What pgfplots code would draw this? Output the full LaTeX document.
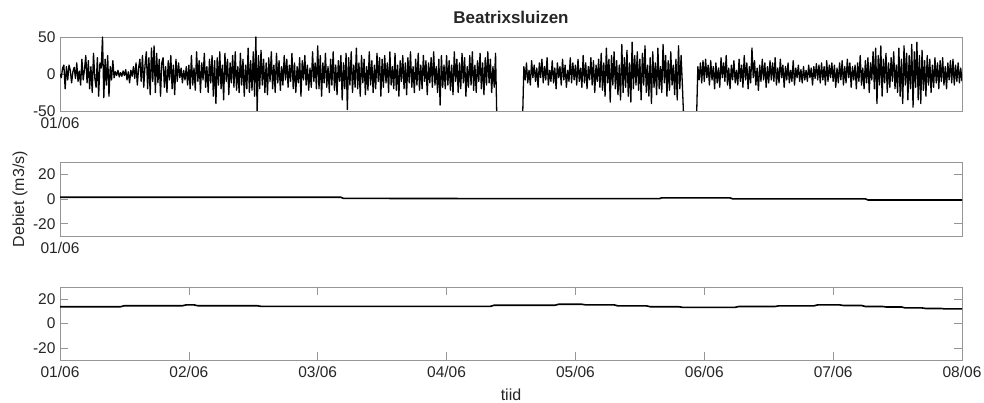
\documentclass[border=0pt]{standalone}
\usepackage{pgfplots}
\pgfplotsset{compat=1.18}
\usepackage{fontspec}
\setmainfont{Liberation Sans}
\definecolor{txt}{RGB}{38,38,38}
\definecolor{axc}{RGB}{150,150,150}
\pgfplotsset{
  panel/.style={
    scale only axis, width=902pt, xmin=0, xmax=7,
    axis line style={draw=axc},
    tick style={draw=axc, line width=0.6pt},
    major tick length=8pt, tick align=inside,
    /pgf/number format/assume math mode=true,
    every tick label/.append style={text=txt, font=\fontsize{15.5}{18}\selectfont},
    xticklabel style={yshift=-3pt},
    yticklabel style={xshift=-1pt},
    clip=true,
  },
  dat/.style={black, line width=1.3pt, no marks, line join=round},
  flat/.style={black, line width=1.6pt, no marks, line join=round},
}
\begin{document}
\begin{tikzpicture}
\path[use as bounding box] (0pt,0pt) rectangle (984pt,-403pt);
% ---------------- top panel ----------------
\begin{axis}[panel, height=74pt, at={(60pt,-111pt)}, anchor=south west,
  ymin=-50, ymax=50, ytick={-50,0,50},
  xtick={0}, xticklabels={01/06},
  title={Beatrixsluizen},
  title style={at={(axis description cs:0.5,1)}, anchor=base, yshift=7pt,
    text=txt, font=\bfseries\fontsize{17}{20}\selectfont}]
\addplot[dat] table[row sep=\\, x expr=\coordindex*0.01, y=y] {y\\
0\\ -5\\ 8\\ 12\\ -20\\ 10\\ -8\\ 12\\ 5\\ -12\\
3\\ 9\\ -6\\ 15\\ -10\\ 4\\ -15\\ 20\\ -8\\ 6\\
25\\ -12\\ 18\\ -20\\ 10\\ -25\\ 28\\ -5\\ -18\\ 22\\
-30\\ 15\\ 8\\ 50\\ -32\\ 20\\ -15\\ 25\\ -30\\ 10\\
-8\\ 18\\ -5\\ 3\\ -2\\ 5\\ -4\\ 2\\ -3\\ 4\\
-2\\ 6\\ -8\\ 3\\ -12\\ 5\\ -3\\ 10\\ -6\\ 15\\
-15\\ 8\\ 20\\ -10\\ 25\\ -18\\ 12\\ 30\\ -20\\ 22\\
-28\\ 35\\ -10\\ 38\\ -25\\ 28\\ -12\\ 20\\ -30\\ 15\\
22\\ -18\\ 10\\ -25\\ 18\\ -8\\ 25\\ -20\\ 12\\ -28\\
20\\ -10\\ 15\\ -5\\ 8\\ -12\\ 5\\ -8\\ 10\\ -15\\
12\\ -20\\ 25\\ -15\\ 8\\ -22\\ 30\\ -10\\ 18\\ -25\\
15\\ -8\\ 28\\ -18\\ 10\\ -25\\ 20\\ -12\\ 25\\ -30\\
18\\ -40\\ 22\\ -15\\ 30\\ -20\\ 12\\ -35\\ 28\\ -10\\
20\\ -28\\ 15\\ -12\\ 25\\ -18\\ 30\\ -22\\ 10\\ -25\\
28\\ -15\\ 20\\ -30\\ 12\\ -20\\ 35\\ -25\\ 18\\ -22\\
30\\ -30\\ 50\\ -50\\ 25\\ -20\\ 32\\ -15\\ 20\\ -25\\
15\\ -28\\ 22\\ -10\\ 30\\ -20\\ 12\\ -25\\ 28\\ -12\\
18\\ -22\\ 10\\ -15\\ 25\\ -8\\ 20\\ -18\\ 12\\ -10\\
28\\ -20\\ 15\\ -25\\ 10\\ -12\\ 22\\ -30\\ 18\\ -8\\
25\\ -15\\ 12\\ -22\\ 8\\ -18\\ 30\\ -10\\ 15\\ -20\\
38\\ -20\\ 25\\ -30\\ 15\\ -12\\ 28\\ -18\\ 10\\ -25\\
20\\ -15\\ 30\\ -22\\ 12\\ -28\\ 18\\ -10\\ 25\\ -35\\
15\\ -20\\ 28\\ -48\\ 22\\ -15\\ 30\\ -25\\ 12\\ -18\\
35\\ -20\\ 15\\ -30\\ 25\\ -12\\ 20\\ -28\\ 10\\ -22\\
30\\ -15\\ 18\\ -25\\ 12\\ -20\\ 28\\ -10\\ 22\\ -30\\
20\\ -18\\ 25\\ -12\\ 15\\ -25\\ 30\\ -15\\ 10\\ -20\\
28\\ -22\\ 12\\ -30\\ 18\\ -10\\ 25\\ -20\\ 15\\ -28\\
22\\ -12\\ 30\\ -18\\ 10\\ -25\\ 20\\ -15\\ 28\\ -22\\
12\\ -20\\ 25\\ -10\\ 18\\ -28\\ 15\\ -12\\ 22\\ -18\\
30\\ -15\\ 10\\ -25\\ 20\\ -42\\ 25\\ -18\\ 12\\ -20\\
25\\ -15\\ 18\\ -22\\ 12\\ -28\\ 30\\ -10\\ 20\\ -25\\
15\\ -20\\ 28\\ -12\\ 22\\ -30\\ 10\\ -18\\ 25\\ -15\\
30\\ -22\\ 12\\ -25\\ 18\\ -10\\ 28\\ -20\\ 15\\ -28\\
22\\ -15\\ 30\\ -12\\ 20\\ -25\\ 10\\ -18\\ 28\\ -60\\
};
\addplot[dat] table[row sep=\\, x expr=\coordindex*0.01+3.59, y=y] {y\\
-60\\
10\\ -8\\ 15\\ -12\\ 5\\ -15\\ 18\\ -5\\ 12\\ -10\\
8\\ -18\\ 15\\ -5\\ 20\\ -12\\ 10\\ -8\\ 22\\ -15\\
5\\ -10\\ 18\\ -12\\ 8\\ -20\\ 15\\ -5\\ 10\\ -15\\
20\\ -8\\ 12\\ -18\\ 5\\ -10\\ 22\\ -12\\ 15\\ -8\\
12\\ -15\\ 20\\ -10\\ 8\\ -18\\ 25\\ -12\\ 15\\ -20\\
10\\ -8\\ 22\\ -15\\ 18\\ -25\\ 12\\ -10\\ 20\\ -18\\
28\\ -22\\ 15\\ -30\\ 35\\ -12\\ 20\\ -38\\ 25\\ -15\\
30\\ -20\\ 18\\ -28\\ 12\\ -35\\ 40\\ -25\\ 22\\ -18\\
32\\ -30\\ 15\\ -38\\ 43\\ -20\\ 25\\ -15\\ 30\\ -22\\
20\\ -35\\ 28\\ -15\\ 38\\ -25\\ 12\\ -30\\ 22\\ -40\\
30\\ -18\\ 15\\ -28\\ 35\\ -20\\ 10\\ -25\\ 40\\ -12\\
25\\ -30\\ 18\\ -22\\ 30\\ -15\\ 12\\ -28\\ 20\\ -35\\
38\\ -20\\ 25\\ -15\\ -60\\
};
\addplot[dat] table[row sep=\\, x expr=\coordindex*0.01+4.94, y=y] {y\\
-60\\ 10\\ -8\\ 15\\ -12\\ 18\\
-10\\ 20\\ -5\\ 12\\ -15\\ 18\\ -8\\ 10\\ -20\\ 15\\
-12\\ 8\\ -18\\ 22\\ -5\\ 15\\ -10\\ 25\\ -15\\ 8\\
-20\\ 12\\ -8\\ 18\\ -12\\ 5\\ -15\\ 20\\ -10\\ 12\\
-18\\ 25\\ -8\\ 15\\ -20\\ 10\\ -12\\ 35\\ -5\\ 18\\
-15\\ 8\\ -22\\ 12\\ -10\\ 20\\ -8\\ 15\\ -18\\ 10\\
-12\\ 18\\ -8\\ 15\\ -10\\ 22\\ -15\\ 8\\ -12\\ 20\\
-5\\ 12\\ -18\\ 10\\ -8\\ 15\\ -12\\ 5\\ -10\\ 18\\
-15\\ 8\\ -5\\ 12\\ -10\\ 6\\ -12\\ 10\\ -8\\ 5\\
-10\\ 12\\ -5\\ 8\\ -15\\ 10\\ -6\\ 14\\ -8\\ 12\\
-12\\ 15\\ -8\\ 10\\ -15\\ 18\\ -10\\ 12\\ -5\\ 15\\
-10\\ 12\\ -18\\ 8\\ -12\\ 15\\ -8\\ 18\\ -15\\ 10\\
-12\\ 20\\ -5\\ 15\\ -18\\ 10\\ -8\\ 12\\ -20\\ 15\\
-10\\ 25\\ -15\\ 8\\ -20\\ 18\\ -12\\ 22\\ -25\\ 15\\
-8\\ 30\\ -20\\ 35\\ -40\\ 25\\ -15\\ 38\\ -30\\ 20\\
-12\\ 28\\ -25\\ 15\\ -18\\ 22\\ -10\\ 30\\ -20\\ 12\\
-25\\ 35\\ -30\\ 20\\ -40\\ 38\\ -15\\ 28\\ -35\\ 25\\
-20\\ 40\\ -45\\ 30\\ -18\\ 43\\ -35\\ 25\\ -40\\ 32\\
-22\\ 18\\ -30\\ 25\\ -15\\ 20\\ -25\\ 12\\ -18\\ 22\\
-12\\ 15\\ -20\\ 18\\ -10\\ 22\\ -15\\ 10\\ -20\\ 15\\
-8\\ 18\\ -12\\ 20\\ -15\\ 12\\ -10\\ 15\\ -12\\ 8\\
-10\\
};
\end{axis}
% ---------------- middle panel ----------------
\begin{axis}[panel, height=74pt, at={(60pt,-236pt)}, anchor=south west,
  ymin=-30, ymax=30, ytick={-20,0,20},
  xtick={0}, xticklabels={01/06},
  ylabel={Debiet (m3/s)},
  every axis y label/.style={at={(axis description cs:0,0.5)}, xshift=-40pt,
    rotate=90, anchor=center, text=txt, font=\fontsize{16}{18}\selectfont}]
\addplot[flat] coordinates {(0,1.4) (2.18,1.4) (2.2,0.5) (3.5,0.3) (4.65,0.3)
  (4.67,0.9) (5.2,0.9) (5.22,0.1) (6.25,0.1) (6.27,-0.8) (7,-0.8)};
\end{axis}
% ---------------- bottom panel ----------------
\begin{axis}[panel, height=73pt, at={(60pt,-360pt)}, anchor=south west,
  ymin=-30, ymax=30, ytick={-20,0,20},
  xtick={0,1,2,3,4,5,6,7},
  xticklabels={01/06,02/06,03/06,04/06,05/06,06/06,07/06,08/06},
  xlabel={tiid},
  every axis x label/.style={at={(axis description cs:0.5,0)}, anchor=base,
    yshift=-40pt, text=txt, font=\fontsize{16}{18}\selectfont}]
\addplot[flat] coordinates {(0,13.8) (0.47,13.8) (0.5,14.6) (0.95,14.6)
  (0.98,15.3) (1.04,15.3) (1.07,14.6) (1.53,14.6) (1.56,14.1) (3.34,14.1)
  (3.37,15) (3.84,15) (3.87,15.8) (4.05,15.8) (4.08,15.3) (4.3,15.3)
  (4.33,14.5) (4.55,14.5) (4.58,13.8) (4.8,13.8) (4.83,13.3) (5.24,13.3)
  (5.27,14) (5.55,14) (5.58,14.5) (5.85,14.5) (5.88,15.3) (6.05,15.3)
  (6.08,14.8) (6.22,14.8) (6.25,14) (6.38,14) (6.41,13.6) (6.53,13.6)
  (6.56,12.8) (6.69,12.8) (6.72,12.3) (6.84,12.3) (6.87,12) (7,12)};
\end{axis}
\end{tikzpicture}
\end{document}
